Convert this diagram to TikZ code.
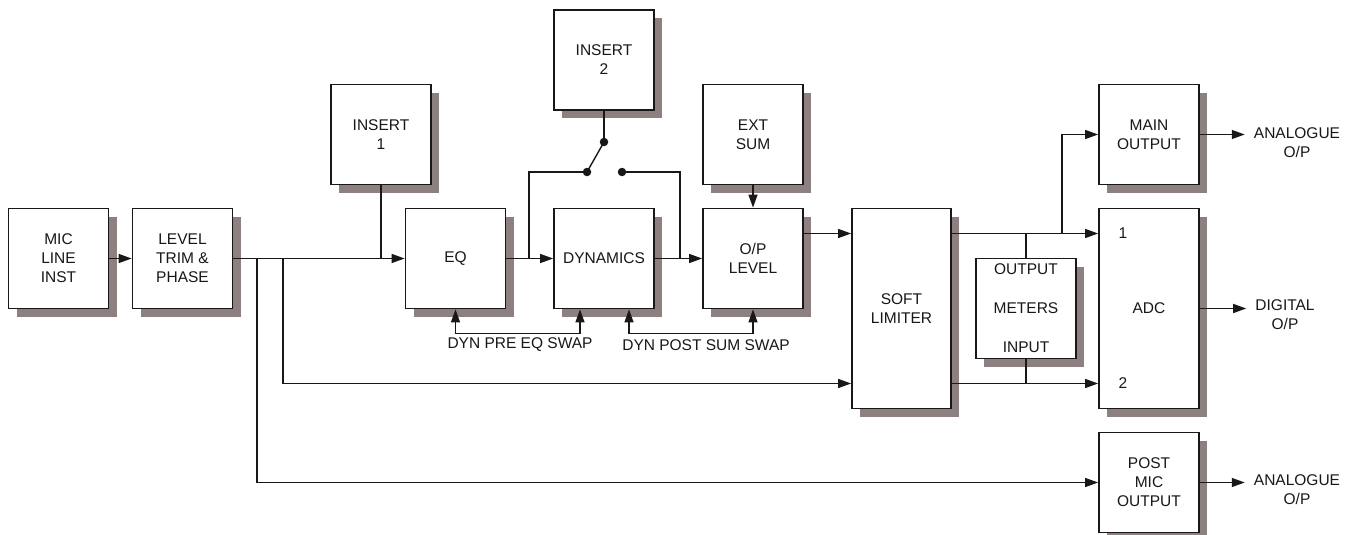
\documentclass[tikz,border=0pt]{standalone}
\usepackage{fontspec}
\setmainfont{Liberation Sans}
\usetikzlibrary{arrows.meta,shadows,calc}
\definecolor{shadowc}{RGB}{140,128,128}
\definecolor{ink}{RGB}{25,23,23}
\begin{document}
\begin{tikzpicture}[x=1pt,y=-1pt,
  font=\fontsize{15.5}{19}\selectfont,
  blk/.style={draw=ink, line width=1.8pt, fill=white, minimum width=100pt, minimum height=100pt,
    inner sep=0pt, align=center, text=ink,
    general shadow={fill=shadowc, shadow xshift=8pt, shadow yshift=-8pt}},
  tall/.style={blk, minimum height=200pt},
  wire/.style={draw=ink, line width=1.4pt},
  tip/.tip={Triangle[length=13pt,width=9pt]},
  arr/.style={wire, -tip},
  darr/.style={wire, tip-tip},
  dot/.style={circle, fill=ink, inner sep=0pt, minimum size=8.5pt},
  lbl/.style={align=center, inner sep=0pt, text=ink}
]
\useasboundingbox (0,0) rectangle (1351,535);

% blocks
\node[blk] (mic) at (58.5,258.5) {MIC\\LINE\\INST};
\node[blk] (lvl) at (182.5,258.5) {LEVEL\\TRIM \&\\PHASE};
\node[blk] (ins1) at (381,134.5) {INSERT\\1};
\node[blk] (eq) at (455.5,258.5) {EQ};
\node[blk] (ins2) at (604,60) {INSERT\\2};
\node[blk] (dyn) at (604,258.5) {DYNAMICS};
\node[blk] (ext) at (753,134.5) {EXT\\SUM};
\node[blk] (opl) at (753,258.5) {O/P\\LEVEL};
\node[tall, minimum width=99pt] (soft) at (901.5,308.5) {SOFT\\LIMITER};
\node[blk] (met) at (1026,308.5) {OUTPUT\\[20pt]METERS\\[20pt]INPUT};
\node[blk] (mainout) at (1149,134.5) {MAIN\\OUTPUT};
\node[tall] (adc) at (1149,308.5) {ADC};
\node[blk] (post) at (1149,482.5) {POST\\MIC\\OUTPUT};

% labels
\node[lbl] (n1) at (1123,233.5) {1};
\node[lbl] (n2) at (1123,383.5) {2};
\node[lbl, inner xsep=9pt] (ana1) at (1297,143) {ANALOGUE\\O/P};
\node[lbl, inner xsep=9pt] (dig) at (1285,315) {DIGITAL\\O/P};
\node[lbl, inner xsep=9pt] (ana2) at (1297,490) {ANALOGUE\\O/P};
\node[lbl] (swap1) at (520,345) {DYN PRE EQ SWAP};
\node[lbl] (swap2) at (706,345) {DYN POST SUM SWAP};

% switch
\node[dot] (piv) at (604,142) {};
\node[dot] (dl) at (587,172) {};
\node[dot] (dr) at (622,172) {};

% junction coordinates
\coordinate (j1) at (257,258.5);
\coordinate (j2) at (283,258.5);
\coordinate (j3) at (529,258.5);
\coordinate (j4) at (680,258.5);
\coordinate (o1) at ([yshift=75]soft.east);
\coordinate (o2) at ([yshift=-75]soft.east);
\coordinate (j5) at (1062,233.5);

% connectors
\draw[arr] (mic.east) -- (lvl.west);
\draw[arr] (lvl.east) -- (eq.west);
\draw[arr] (j1) |- (post.west);
\draw[arr] (j2) |- ([yshift=-75]soft.west);
\draw[wire] (ins1.south) -- (ins1.south |- eq.west);
\draw[arr] (eq.east) -- (dyn.west);
\draw[wire] (j3) |- (dl);
\draw[wire] (ins2.south) -- (piv);
\draw[wire] (piv.center) -- (dl.center);
\draw[wire] (dr) -| (j4);
\draw[arr] (dyn.east) -- (opl.west);
\draw[arr] (ext.south) -- (opl.north);
\draw[arr] ([yshift=25]opl.east) -- ([yshift=75]soft.west);
\draw[arr] (o1) -- ([yshift=75]adc.west);
\draw[arr] (o2) -- ([yshift=-75]adc.west);
\draw[wire] (met.north) -- (met.north |- o1);
\draw[wire] (met.south) -- (met.south |- o2);
\draw[arr] (j5) |- (mainout.west);
\draw[arr] (mainout.east) -- (mainout.east -| ana1.west);
\draw[arr] (adc.east) -- (adc.east -| dig.west);
\draw[arr] (post.east) -- (post.east -| ana2.west);
\draw[darr] (eq.south) -- ++(0,24) -| ([xshift=-24]dyn.south);
\draw[darr] ([xshift=25]dyn.south) -- ++(0,24) -| (opl.south);
\end{tikzpicture}
\end{document}
